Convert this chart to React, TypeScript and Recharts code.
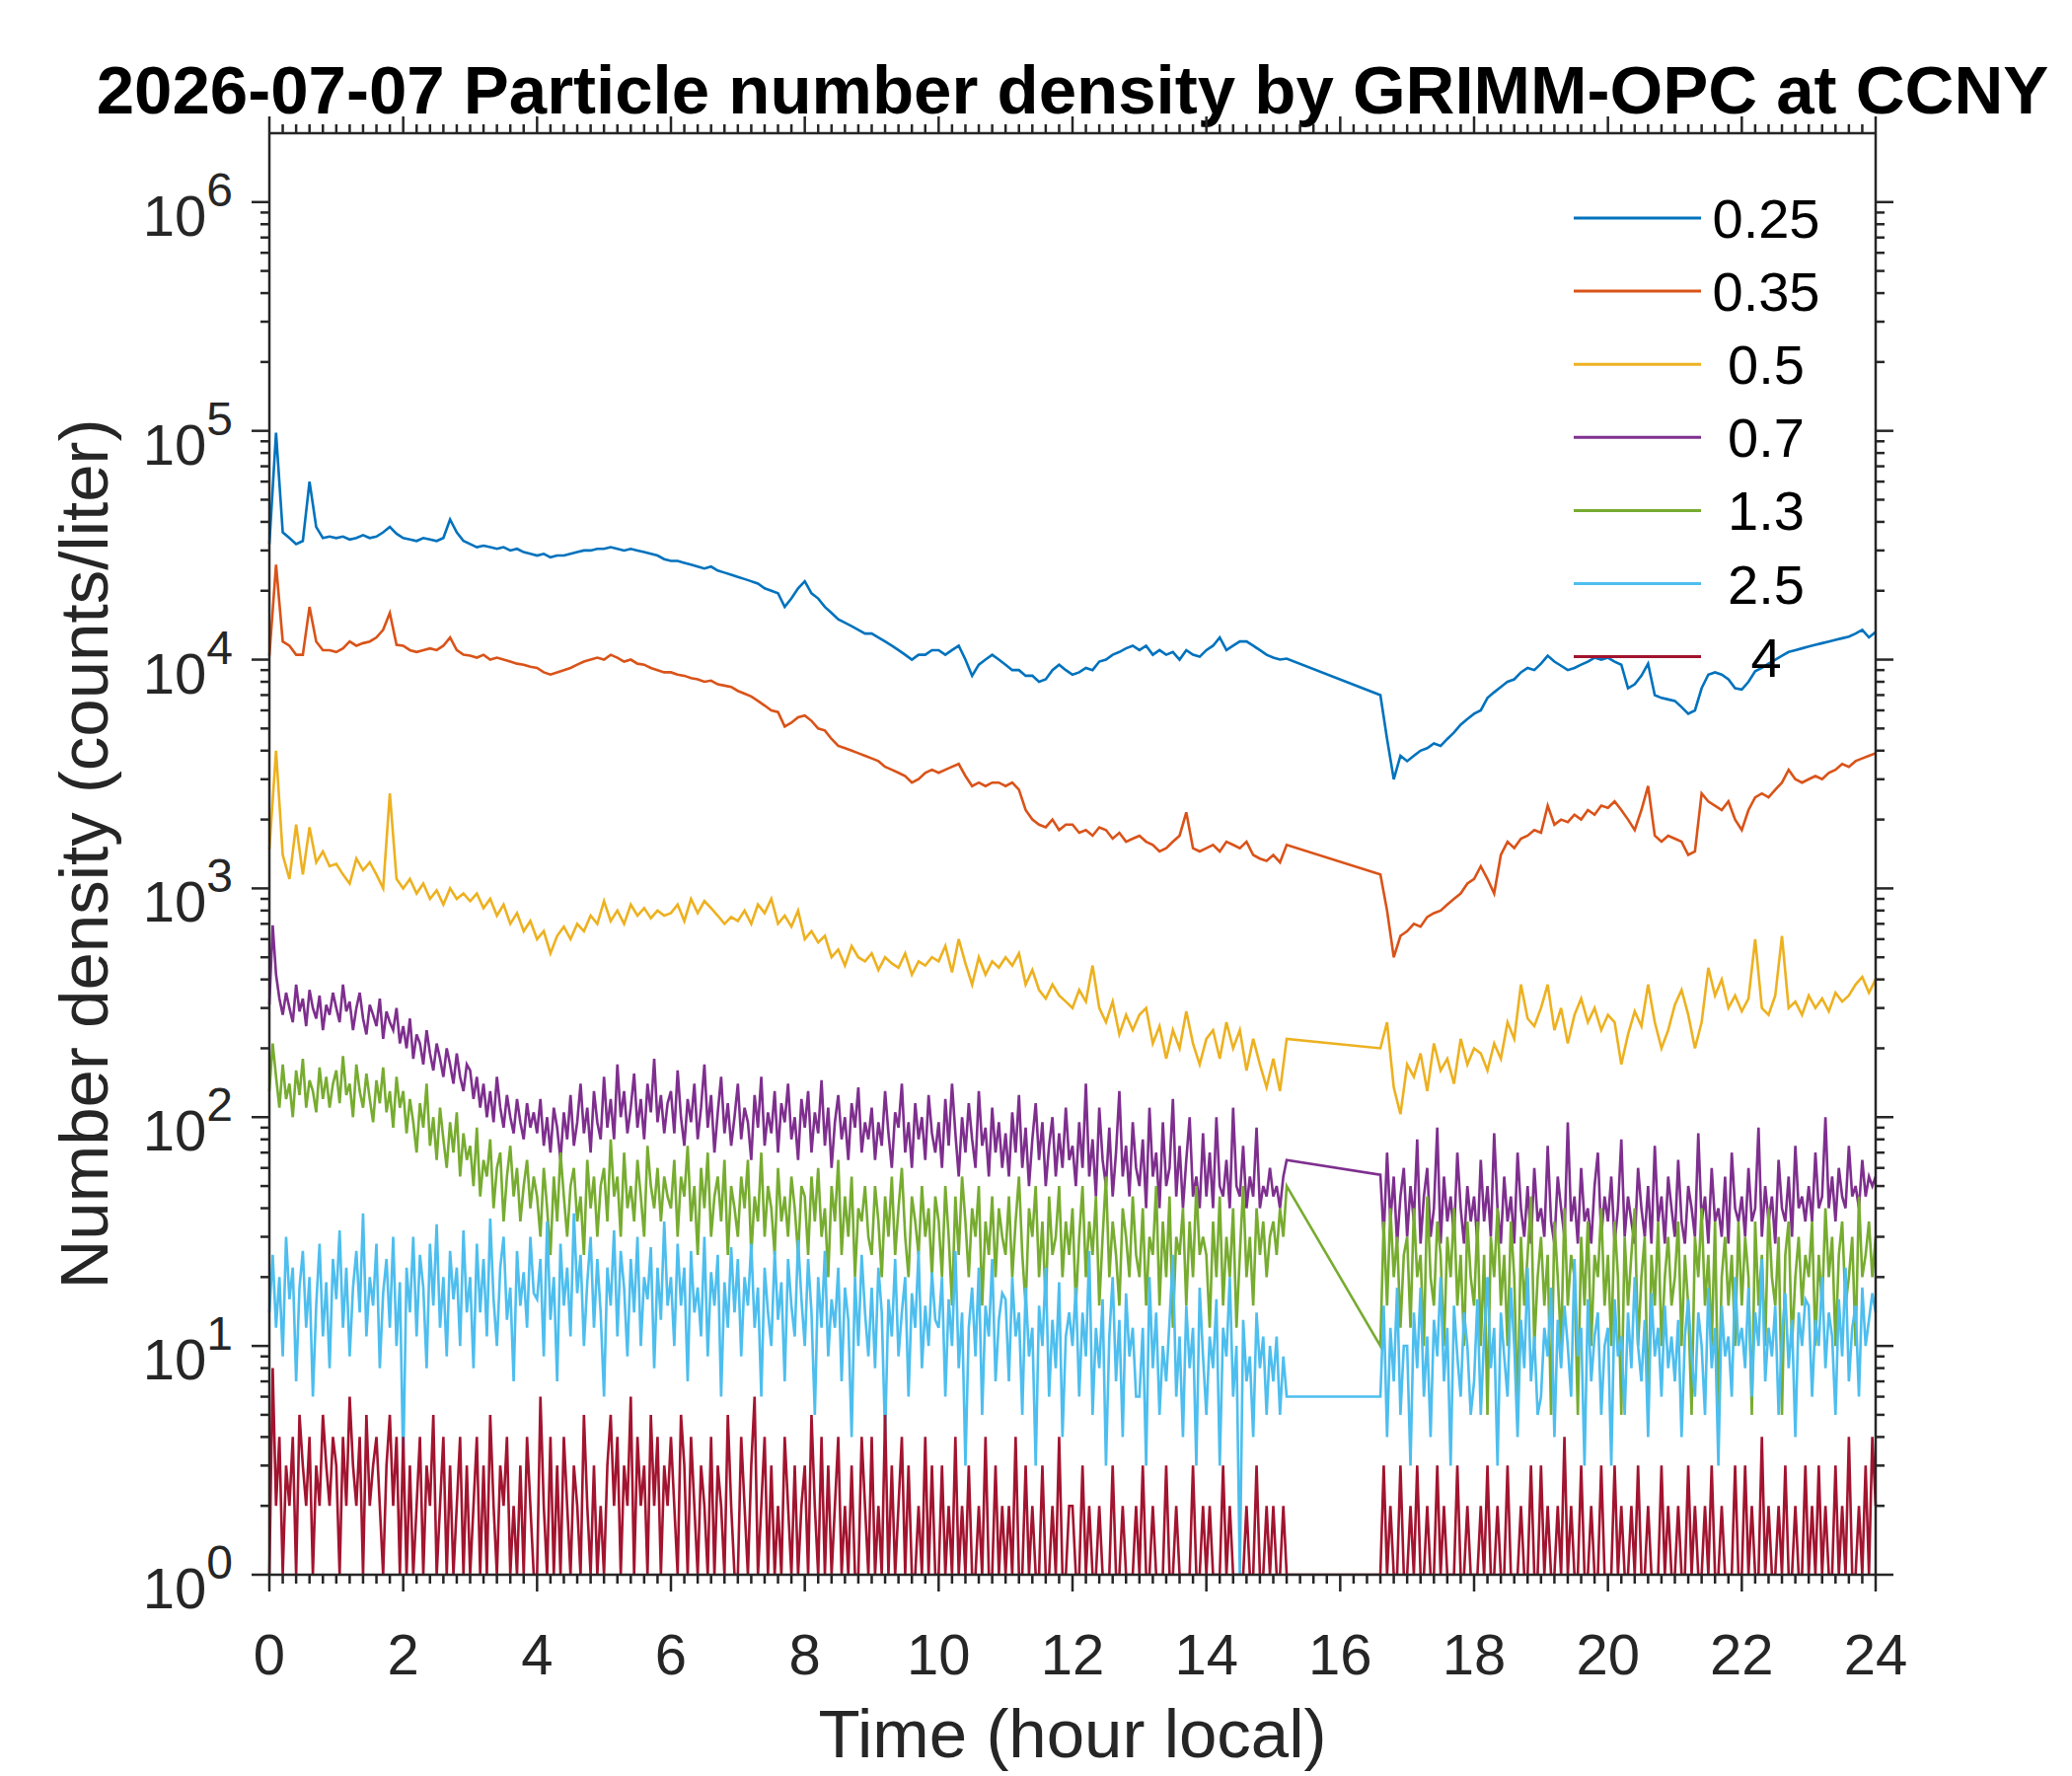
import { LineChart, Line, XAxis, YAxis, Legend } from "recharts";

const W = 2100;
const H = 1800;
// plot box in page pixels
const PLOT = { left: 273, right: 1901, top: 135, bottom: 1596 };
const FONT = '"Liberation Sans", Arial, Helvetica, sans-serif';
const AXIS = "#262626";

const title = "2026-07-07 Particle number density by GRIMM-OPC at CCNY";
const xLabel = "Time (hour local)";
const yLabel = "Number density (counts/liter)";

// instrument runs; no samples between 15.2 h and 16.6 h
const runs = [
  [0, 15.2],
  [16.6, 24.0],
];
const grid = (step: number) => {
  const out: number[] = [];
  runs.forEach(([a, b]) => {
    for (let k = 0; a + k * step <= b + 1e-9; k++) out.push(Math.round((a + k * step) * 100) / 100);
  });
  return out;
};
// smooth channels read every 0.1 h, noisy channels every 0.05 h
const hoursCoarse = grid(0.1);
const hoursFine = grid(0.05);

const xMajor = [0, 2, 4, 6, 8, 10, 12, 14, 16, 18, 20, 22, 24];
const yMajor = [1, 10, 100, 1000, 10000, 100000, 1000000];

// counts/liter per channel (µm)
const n025 = [
  32000, 98000, 36000, 34000, 32000, 33000, 60000, 38000, 34000, 34500,
  34000, 34500, 33500, 34000, 35000, 34000, 34500, 36000, 38000, 35500,
  34000, 33500, 33000, 34000, 33500, 33000, 34000, 41000, 36000, 33000,
  32000, 31000, 31500, 31000, 30500, 31000, 30000, 30500, 29500, 29000,
  28500, 29000, 28000, 28500, 28500, 29000, 29500, 30000, 30000, 30500,
  30500, 31000, 30500, 30000, 30500, 30000, 29500, 29000, 28500, 27500,
  27000, 27000, 26500, 26000, 25500, 25000, 25500, 24500, 24000, 23500,
  23000, 22500, 22000, 21500, 20500, 20000, 19500, 17000, 18500, 20500,
  22000, 19500, 18500, 17000, 16000, 15000, 14500, 14000, 13500, 13000,
  13000, 12500, 12000, 11500, 11000, 10500, 10000, 10500, 10500, 11000,
  11000, 10500, 11000, 11500, 10000, 8500, 9500, 10000, 10500, 10000,
  9500, 9000, 9000, 8500, 8500, 8000, 8200, 9000, 9500, 9000,
  8600, 8800, 9200, 9000, 9800, 10000, 10500, 10800, 11200, 11500,
  11000, 11500, 10500, 11000, 10500, 10800, 10000, 11000, 10500, 10300,
  11000, 11500, 12500, 11000, 11500, 12000, 12000, 11500, 11000, 10500,
  10200, 10000, 10100,
  7000, 4500, 3000, 3800, 3600,
  3800, 4000, 4100, 4300, 4200, 4500, 4800, 5200, 5500, 5800,
  6000, 6800, 7200, 7600, 8000, 8200, 8800, 9200, 9000, 9600,
  10400, 9800, 9400, 9000, 9200, 9500, 9800, 10200, 10000, 10200,
  9800, 9500, 7500, 7800, 8500, 9600, 7000, 6800, 6700, 6600,
  6200, 5800, 6000, 7500, 8600, 8800, 8600, 8200, 7500, 7400,
  8000, 8900, 9200, 9600, 10000, 10400, 10800, 11000, 11200, 11400,
  11600, 11800, 12000, 12200, 12400, 12600, 13000, 13500, 12500, 13200,
];
const n035 = [
  10400, 26000, 12000, 11500, 10500, 10500, 17000, 12000, 11000, 11000,
  10800, 11200, 12000, 11500, 11800, 12000, 12500, 13500, 16000, 11600,
  11500, 11000, 10800, 11000, 11200, 11000, 11500, 12500, 11000, 10500,
  10400, 10200, 10500, 10000, 10200, 10000, 9800, 9600, 9500, 9300,
  9200, 8800, 8600, 8800, 9000, 9200, 9500, 9800, 10000, 10200,
  10000, 10500, 10200, 9800, 10000, 9600, 9500, 9200, 9000, 8800,
  8800, 8600, 8500, 8300, 8200, 8000, 8100, 7800, 7700, 7600,
  7300, 7100, 6900, 6600, 6300, 6000, 5900, 5100, 5300, 5600,
  5700, 5400, 5000, 4900, 4500, 4200, 4100, 4000, 3900, 3800,
  3700, 3600, 3400, 3300, 3200, 3100, 2900, 3000, 3200, 3300,
  3200, 3300, 3400, 3500, 3100, 2800, 2900, 2800, 2900, 2900,
  2800, 2900, 2700, 2200, 2000, 1900, 1850, 2000, 1800, 1900,
  1900, 1750, 1800, 1700, 1850, 1800, 1650, 1750, 1600, 1650,
  1700, 1600, 1550, 1450, 1500, 1600, 1700, 2150, 1500, 1450,
  1500, 1550, 1450, 1600, 1550, 1500, 1600, 1400, 1350, 1320,
  1400, 1300, 1550,
  1150, 800, 500, 620, 650,
  700, 680, 750, 780, 800, 850, 900, 950, 1050, 1100,
  1250, 1100, 950, 1400, 1600, 1500, 1650, 1700, 1800, 1750,
  2300, 1900, 2000, 1950, 2100, 2000, 2200, 2100, 2300, 2250,
  2400, 2200, 2000, 1800, 2200, 2800, 1700, 1600, 1700, 1650,
  1600, 1400, 1450, 2600, 2400, 2300, 2200, 2400, 2000, 1800,
  2200, 2500, 2600, 2500, 2700, 2900, 3300, 3000, 2900, 3000,
  3100, 3000, 3200, 3300, 3500, 3400, 3600, 3700, 3800, 3900,
];
const n05 = [
  1480, 4000, 1400, 1100, 1900, 1150, 1850, 1300, 1450, 1250,
  1280, 1150, 1050, 1350, 1200, 1300, 1150, 1000, 2600, 1100,
  1000, 1100, 950, 1050, 900, 980, 850, 1000, 900, 950,
  880, 950, 820, 900, 760, 850, 700, 780, 650, 720,
  600, 650, 520, 620, 680, 600, 700, 650, 760, 700,
  880, 720, 800, 700, 850, 760, 820, 740, 800, 760,
  780, 850, 720, 900, 780, 880, 820, 760, 700, 750,
  720, 800, 700, 850, 780, 900, 700, 760, 680, 800,
  600, 650, 580, 620, 500, 540, 460, 560, 500, 480,
  520, 440, 500, 470, 450, 520, 420, 480, 460, 500,
  480, 560, 430, 600, 470, 380, 500, 420, 480, 450,
  500, 460, 520, 380, 440, 360, 330, 380, 340, 320,
  300, 360, 320, 460, 300, 260, 320, 230, 280, 240,
  280, 300, 210, 250, 180, 240, 200, 290, 210, 170,
  220, 240, 180, 260, 200, 240, 160, 220, 170, 135,
  180, 130, 220,
  200, 260, 135, 103, 170,
  150, 190, 130, 210, 160, 180, 140, 220, 170, 200,
  190, 160, 210, 180, 260, 220, 380, 270, 250, 300,
  380, 240, 300, 210, 280, 330, 260, 300, 240, 280,
  260, 170, 230, 290, 250, 380, 260, 200, 240, 310,
  360, 280, 200, 260, 450, 340, 400, 300, 340, 290,
  330, 600, 300, 280, 340, 620, 300, 320, 280, 340,
  300, 330, 290, 350, 320, 340, 380, 410, 350, 400,
];
const n07 = [
  310, 690, 420, 330, 280, 350, 300, 260, 380, 290, 330, 250, 360, 300, 270, 340, 240, 310, 280, 350,
  300, 260, 380, 290, 320, 240, 300, 350, 270, 230, 310, 280, 250, 330, 220, 290, 260, 240, 300, 210,
  250, 200, 270, 180, 230, 210, 170, 240, 190, 160, 210, 180, 150, 200, 170, 140, 190, 150, 130, 170,
  160, 120, 150, 110, 140, 100, 130, 95, 150, 110, 90, 125, 100, 85, 120, 95, 80, 115, 90, 105,
  85, 120, 75, 100, 70, 110, 90, 65, 105, 80, 125, 75, 95, 140, 85, 110, 70, 130, 95, 80,
  150, 90, 120, 80, 170, 100, 130, 85, 110, 155, 90, 120, 80, 140, 105, 180, 95, 125, 85, 115,
  130, 85, 160, 100, 75, 120, 95, 140, 80, 110, 170, 90, 125, 70, 105, 150, 85, 115, 75, 100,
  140, 80, 110, 95, 65, 125, 90, 150, 75, 105, 85, 130, 70, 115, 95, 140, 80, 100, 65, 120,
  90, 130, 70, 105, 85, 145, 75, 110, 60, 95, 125, 80, 100, 65, 115, 90, 135, 70, 95, 80,
  110, 65, 95, 75, 130, 85, 60, 105, 90, 140, 70, 95, 60, 115, 80, 100, 65, 125, 85, 70,
  95, 60, 120, 75, 140, 85, 55, 100, 70, 115, 80, 60, 130, 75, 90, 55, 110, 70, 95, 60,
  85, 55, 105, 70, 125, 60, 90, 50, 80, 115, 65, 95, 50, 75, 100, 55, 85, 60, 110, 65,
  75, 50, 95, 60, 140, 55, 80, 45, 110, 65, 50, 90, 45, 70, 130, 55, 75, 45, 95, 60,
  50, 80, 40, 110, 55, 70, 40, 95, 50, 60, 120, 45, 75, 40, 65, 100, 45, 55, 40, 85,
  45, 70, 40, 100, 50, 45, 65, 40, 110, 50, 45, 75, 40, 55, 45, 90, 40, 50, 45, 60,
  45, 50, 40, 55, 65,
  56, 30, 70, 35, 55, 28, 45, 60,
  30, 50, 35, 80, 28, 45, 60, 30, 40, 90, 28, 55, 35, 45, 30, 70, 40, 28, 50, 35,
  45, 28, 65, 35, 50, 30, 85, 40, 28, 55, 35, 45, 28, 70, 40, 30, 50, 28, 60, 35,
  40, 30, 75, 35, 28, 55, 40, 30, 95, 35, 45, 28, 60, 35, 40, 28, 50, 70, 30, 45,
  35, 55, 28, 40, 80, 30, 45, 35, 28, 60, 40, 30, 50, 28, 75, 35, 45, 28, 55, 40,
  30, 65, 35, 28, 50, 40, 30, 85, 35, 45, 28, 60, 35, 40, 30, 55, 28, 70, 40, 35,
  45, 30, 60, 35, 40, 90, 30, 50, 35, 45, 28, 65, 40, 35, 55, 30, 75, 40, 45, 35,
  50, 35, 70, 40, 45, 100, 40, 55, 35, 60, 45, 40, 75, 45, 50, 40, 65, 45, 55, 50,
  55,
];
const n13 = [
  130, 210, 150, 110, 170, 120, 140, 100, 160, 125, 180, 110, 145, 130, 105, 165, 120, 150, 110, 140,
  160, 115, 185, 125, 140, 100, 170, 130, 110, 155, 120, 95, 145, 115, 165, 105, 130, 90, 150, 110,
  130, 85, 120, 95, 70, 115, 90, 140, 75, 100, 65, 110, 80, 60, 95, 70, 105, 55, 85, 65,
  75, 50, 90, 45, 65, 55, 80, 40, 60, 70, 35, 55, 75, 45, 60, 35, 50, 65, 40, 55,
  45, 30, 60, 40, 25, 55, 35, 70, 45, 30, 50, 60, 35, 45, 25, 65, 40, 55, 30, 50,
  60, 35, 80, 45, 55, 30, 70, 40, 50, 35, 65, 45, 30, 75, 50, 40, 60, 35, 55, 45,
  40, 65, 30, 55, 45, 75, 35, 50, 25, 60, 40, 70, 30, 45, 55, 35, 65, 25, 50, 40,
  30, 55, 40, 65, 25, 45, 35, 70, 30, 50, 40, 25, 60, 35, 45, 30, 55, 40, 25, 50,
  45, 25, 55, 35, 60, 30, 40, 20, 50, 35, 65, 25, 45, 30, 55, 20, 40, 35, 50, 30,
  25, 50, 35, 20, 45, 30, 55, 25, 40, 60, 30, 20, 45, 35, 25, 50, 30, 40, 20, 45,
  35, 20, 50, 30, 15, 45, 25, 55, 35, 20, 40, 30, 50, 15, 35, 25, 45, 20, 40, 30,
  25, 45, 20, 35, 55, 25, 15, 40, 30, 50, 20, 35, 15, 45, 25, 30, 50, 20, 35, 25,
  40, 15, 30, 50, 20, 35, 25, 45, 15, 30, 55, 20, 35, 25, 15, 40, 30, 20, 45, 25,
  20, 40, 15, 30, 25, 50, 15, 35, 20, 45, 12, 30, 25, 40, 15, 35, 20, 50, 25, 30,
  25, 12, 35, 20, 45, 15, 30, 20, 40, 12, 25, 50, 20, 30, 15, 40, 25, 35, 20, 30,
  35, 25, 40, 30, 50,
  10, 35, 15, 40, 20, 30, 12, 25,
  30, 12, 40, 20, 25, 10, 45, 20, 15, 35, 25, 10, 30, 20, 40, 15, 25, 10, 35, 20,
  15, 35, 10, 25, 5, 30, 20, 40, 15, 25, 10, 35, 20, 5, 30, 15, 25, 45, 10, 20,
  30, 15, 25, 5, 35, 20, 10, 40, 15, 25, 20, 5, 30, 15, 35, 10, 25, 20, 40, 15,
  25, 10, 35, 20, 5, 30, 15, 25, 40, 10, 20, 30, 5, 25, 15, 35, 10, 20, 30, 15,
  20, 35, 10, 25, 15, 5, 30, 20, 40, 15, 25, 10, 35, 5, 20, 30, 15, 25, 10, 35,
  15, 30, 20, 5, 35, 15, 25, 10, 40, 20, 15, 30, 5, 25, 35, 10, 20, 30, 15, 25,
  20, 35, 10, 25, 15, 40, 20, 30, 10, 25, 35, 15, 20, 30, 10, 45, 20, 25, 35, 20,
  30,
];
const n25 = [
  14, 25, 12, 20, 9, 30, 16, 22, 7, 18, 26, 12, 20, 6, 15, 28, 11, 19, 8, 24,
  16, 32, 12, 22, 9, 18, 26, 14, 38, 11, 20, 15, 28, 8, 17, 24, 12, 30, 10, 19,
  3, 22, 14, 30, 11, 25, 18, 8, 28, 15, 34, 12, 20, 9, 26, 16, 22, 10, 32, 14,
  20, 8, 28, 14, 24, 11, 36, 16, 10, 22, 30, 13, 18, 7, 26, 15, 21, 12, 30, 17,
  16, 24, 9, 35, 13, 20, 7, 28, 15, 22, 11, 38, 17, 25, 10, 19, 30, 12, 24, 14,
  6, 22, 15, 32, 11, 26, 18, 9, 24, 14, 30, 10, 20, 16, 27, 8, 22, 13, 35, 15,
  20, 10, 28, 15, 22, 7, 26, 14, 18, 11, 30, 9, 21, 15, 25, 6, 19, 12, 27, 14,
  24, 9, 20, 15, 28, 12, 18, 6, 22, 14, 10, 26, 13, 19, 7, 24, 15, 11, 29, 16,
  10, 24, 14, 5, 20, 12, 26, 9, 16, 12, 22, 7, 18, 13, 4, 20, 10, 25, 14, 9,
  18, 8, 22, 14, 4, 16, 11, 24, 9, 14, 20, 6, 17, 12, 26, 8, 15, 10, 21, 13,
  12, 20, 6, 16, 10, 26, 8, 14, 3, 12, 18, 9, 22, 5, 15, 11, 24, 7, 13, 17,
  16, 7, 20, 11, 14, 5, 18, 9, 12, 3, 15, 10, 22, 6, 13, 8, 19, 4, 11, 14,
  10, 18, 6, 14, 9, 26, 5, 12, 8, 16, 3, 11, 20, 7, 13, 4, 17, 9, 12, 6,
  6, 12, 3, 20, 8, 14, 5, 10, 7, 13, 25, 6, 11, 4, 15, 8, 12, 3, 18, 9,
  5, 11, 8, 16, 3, 12, 9, 20, 6, 10, 1, 13, 7, 9, 4, 14, 8, 11, 5, 10,
  7, 11, 5, 9, 6,
  6, 15, 4, 12, 7, 18, 5, 10,
  10, 3, 14, 8, 18, 6, 11, 4, 13, 9, 20, 7, 12, 3, 15, 9, 6, 14, 10, 5,
  7, 16, 5, 11, 20, 8, 12, 3, 14, 9, 6, 18, 10, 4, 13, 8, 22, 7, 11, 5,
  6, 12, 9, 18, 4, 13, 8, 15, 10, 6, 24, 9, 12, 3, 16, 7, 11, 14, 5, 10,
  12, 3, 16, 9, 11, 5, 14, 8, 20, 10, 7, 13, 4, 17, 9, 12, 6, 15, 8, 11,
  7, 13, 4, 11, 16, 9, 6, 14, 10, 5, 18, 8, 12, 3, 15, 9, 11, 6, 20, 10,
  12, 8, 18, 6, 14, 10, 24, 7, 12, 9, 15, 5, 11, 17, 8, 13, 4, 14, 10, 16,
  15, 6, 13, 10, 20, 8, 14, 11, 5, 16, 9, 22, 7, 12, 15, 6, 18, 10, 13, 17,
  14,
];
const n4 = [
  1, 8, 2, 4, 1, 3, 2, 4, 1, 5, 3, 2, 4, 1, 3, 2, 5, 3, 2, 4,
  3, 1, 4, 2, 6, 3, 2, 4, 1, 5, 2, 3, 4, 2, 1, 3, 5, 2, 4, 1,
  4, 1, 3, 1, 2, 4, 1, 3, 2, 5, 1, 2, 4, 1, 3, 1, 2, 4, 1, 3,
  1, 2, 4, 1, 3, 1, 5, 2, 1, 3, 2, 4, 1, 2, 1, 3, 1, 4, 2, 1,
  1, 6, 2, 1, 4, 1, 3, 1, 4, 2, 1, 3, 2, 1, 5, 2, 1, 3, 1, 2,
  1, 3, 5, 2, 4, 1, 3, 2, 6, 1, 4, 2, 3, 1, 5, 2, 4, 1, 3, 2,
  4, 2, 1, 5, 3, 1, 4, 2, 1, 3, 2, 1, 4, 1, 3, 2, 1, 5, 2, 1,
  1, 4, 2, 1, 3, 6, 1, 2, 4, 1, 3, 1, 2, 1, 4, 2, 1, 3, 1, 2,
  3, 1, 5, 2, 1, 4, 1, 3, 1, 2, 4, 1, 2, 1, 3, 1, 1, 4, 2, 1,
  4, 1, 2, 1, 5, 1, 3, 1, 2, 4, 1, 3, 1, 1, 2, 1, 4, 1, 3, 1,
  1, 3, 1, 2, 1, 4, 1, 2, 1, 3, 1, 1, 2, 1, 4, 1, 1, 3, 1, 2,
  1, 2, 1, 4, 1, 1, 3, 1, 2, 1, 1, 3, 1, 1, 2, 1, 4, 1, 1, 2,
  2, 1, 1, 3, 1, 2, 1, 1, 2, 1, 1, 1, 3, 1, 1, 2, 1, 1, 1, 2,
  1, 3, 1, 1, 2, 1, 1, 1, 3, 1, 1, 2, 1, 1, 1, 1, 3, 1, 1, 2,
  1, 2, 1, 1, 1, 3, 1, 2, 1, 1, 1, 1, 2, 1, 1, 3, 1, 1, 2, 1,
  2, 1, 1, 2, 1,
  1, 3, 1, 2, 1, 1, 3, 1,
  1, 2, 1, 3, 1, 1, 2, 1, 1, 3, 1, 2, 1, 1, 1, 3, 1, 1, 2, 1,
  1, 1, 2, 1, 3, 1, 1, 2, 1, 1, 3, 1, 1, 1, 2, 1, 1, 3, 1, 1,
  3, 1, 2, 1, 1, 2, 1, 4, 1, 2, 1, 1, 3, 1, 1, 2, 1, 1, 3, 1,
  1, 1, 3, 1, 2, 1, 1, 2, 1, 3, 1, 1, 2, 1, 1, 1, 3, 1, 2, 1,
  1, 2, 1, 1, 3, 1, 2, 1, 1, 2, 1, 3, 1, 1, 2, 1, 1, 1, 3, 1,
  1, 3, 1, 2, 1, 1, 4, 1, 2, 1, 1, 2, 1, 3, 1, 1, 2, 1, 1, 3,
  1, 2, 1, 3, 1, 2, 1, 1, 3, 1, 2, 1, 4, 1, 1, 2, 1, 3, 1, 4,
  2,
];

const sizes = ["0.25", "0.35", "0.5", "0.7", "1.3", "2.5", "4"];
const colors = ["#0072BD", "#D95319", "#EDB120", "#7E2F8E", "#77AC30", "#4DBEEE", "#A2142F"];
const channels = [n025, n035, n05, n07, n13, n25, n4];
const coarse = [true, true, true, false, false, false, false];

const coarseIndex = new Map(hoursCoarse.map((t, i) => [Math.round(t * 100), i]));
const data = hoursFine.map((t, i) => {
  const row: Record<string, number | null> = { t };
  const k = coarseIndex.get(Math.round(t * 100));
  channels.forEach((vals, j) => {
    if (coarse[j]) row["c" + j] = k === undefined ? null : vals[k];
    else row["c" + j] = vals[i];
  });
  return row;
});

// minor ticks every 0.2 h, and 2..9 inside each decade
const xTicks: number[] = [];
for (let k = 0; k <= 120; k++) xTicks.push(Math.round(k * 2) / 10);
const yTicks: number[] = [];
yMajor.forEach((d) => {
  for (let m = 1; m <= 9; m++) if (d * m <= yMajor[yMajor.length - 1]) yTicks.push(d * m);
});

const isMajorX = (v: number) => xMajor.some((m) => Math.abs(m - v) < 1e-6);
const isMajorY = (v: number) => yMajor.includes(v);

const BottomTick = ({ x, y, payload }: any) => {
  const major = isMajorX(payload.value);
  return (
    <g>
      <line x1={x} x2={x} y1={y} y2={y + (major ? 17 : 9)} stroke={AXIS} strokeWidth={2.5} />
      {major && (
        <text x={x} y={y + 101} textAnchor="middle" fontSize={58} fontFamily={FONT} fill={AXIS}>
          {payload.value}
        </text>
      )}
    </g>
  );
};

const TopTick = ({ x, y, payload }: any) => {
  const major = isMajorX(payload.value);
  return <line x1={x} x2={x} y1={y} y2={y - (major ? 17 : 9)} stroke={AXIS} strokeWidth={2.5} />;
};

const LeftTick = ({ x, y, payload }: any) => {
  const major = isMajorY(payload.value);
  return (
    <g>
      <line x1={x} x2={x - (major ? 18 : 9)} y1={y} y2={y} stroke={AXIS} strokeWidth={2.5} />
      {major && (
        <text x={x - 37} y={y + 34} textAnchor="end" fontSize={58} fontFamily={FONT} fill={AXIS}>
          <tspan>10</tspan>
          <tspan dy={-30} fontSize={48}>
            {Math.round(Math.log10(payload.value))}
          </tspan>
        </text>
      )}
    </g>
  );
};

const RightTick = ({ x, y, payload }: any) => {
  const major = isMajorY(payload.value);
  return <line x1={x} x2={x + (major ? 18 : 9)} y1={y} y2={y} stroke={AXIS} strokeWidth={2.5} />;
};

const cx = (PLOT.left + PLOT.right) / 2;
const cy = (PLOT.top + PLOT.bottom) / 2;

const LegendBox = ({ payload }: any) => (
  <svg width={330} height={530} style={{ overflow: "visible" }}>
    {(payload || [])
      .filter((p: any) => p.type !== "none" && sizes.includes(p.value))
      .map((p: any, i: number) => {
        const y = 41 + i * 74.1;
        return (
          <g key={p.value}>
            <line x1={15} x2={144} y1={y} y2={y} stroke={p.color} strokeWidth={3} />
            <text x={210} y={y + 20} textAnchor="middle" fontSize={56} fontFamily={FONT} fill="#000">
              {p.value}
            </text>
          </g>
        );
      })}
  </svg>
);

export default function App() {
  const leftW = 200;
  const rightW = 40;
  const topH = 40;
  const bottomH = 150;
  return (
    <div style={{ position: "absolute", left: 0, top: 0, width: W, height: H, background: "#fff" }}>
      <LineChart
        width={W}
        height={H}
        data={data}
        margin={{
          top: PLOT.top - topH,
          right: W - PLOT.right - rightW,
          bottom: H - PLOT.bottom - bottomH,
          left: PLOT.left - leftW,
        }}
      >
        <XAxis
          dataKey="t"
          type="number"
          domain={[0, 24]}
          ticks={xTicks}
          interval={0}
          height={bottomH}
          tickSize={0}
          tickMargin={0}
          tickLine={false}
          tick={<BottomTick />}
          axisLine={{ stroke: AXIS, strokeWidth: 2.5 }}
          label={() => (
            <text x={cx} y={1781} textAnchor="middle" fontSize={69} fontFamily={FONT} fill={AXIS}>
              {xLabel}
            </text>
          )}
        />
        <XAxis
          xAxisId="top"
          orientation="top"
          dataKey="t"
          type="number"
          domain={[0, 24]}
          ticks={xTicks}
          interval={0}
          height={topH}
          tickSize={0}
          tickMargin={0}
          tickLine={false}
          tick={<TopTick />}
          axisLine={{ stroke: AXIS, strokeWidth: 2.5 }}
          label={() => (
            <text x={cx} y={115} textAnchor="middle" fontSize={69} fontWeight="bold" fontFamily={FONT} fill="#000">
              {title}
            </text>
          )}
        />
        <YAxis
          type="number"
          scale="log"
          domain={[1, 2000000]}
          allowDataOverflow
          ticks={yTicks}
          interval={0}
          width={leftW}
          tickSize={0}
          tickMargin={0}
          tickLine={false}
          tick={<LeftTick />}
          axisLine={{ stroke: AXIS, strokeWidth: 2.5 }}
          label={() => (
            <text
              x={109}
              y={cy}
              transform={`rotate(-90 109 ${cy})`}
              textAnchor="middle"
              fontSize={69}
              fontFamily={FONT}
              fill={AXIS}
            >
              {yLabel}
            </text>
          )}
        />
        <YAxis
          yAxisId="right"
          orientation="right"
          type="number"
          scale="log"
          domain={[1, 2000000]}
          allowDataOverflow
          ticks={yTicks}
          interval={0}
          width={rightW}
          tickSize={0}
          tickMargin={0}
          tickLine={false}
          tick={<RightTick />}
          axisLine={{ stroke: AXIS, strokeWidth: 2.5 }}
        />
        {sizes.map((s, j) => (
          <Line
            key={s}
            name={s}
            dataKey={"c" + j}
            type="linear"
            stroke={colors[j]}
            strokeWidth={2.6}
            dot={false}
            activeDot={false}
            connectNulls
            isAnimationActive={false}
          />
        ))}
        {/* keeps the mirrored box axes tied to the same data */}
        <Line
          xAxisId="top"
          yAxisId="right"
          dataKey="c0"
          stroke="transparent"
          dot={false}
          activeDot={false}
          connectNulls
          legendType="none"
          isAnimationActive={false}
        />
        <Legend
          layout="horizontal"
          verticalAlign="middle"
          align="center"
          content={<LegendBox />}
          wrapperStyle={{ left: 1580, top: 180, width: 330, height: 530 }}
        />
      </LineChart>
    </div>
  );
}
